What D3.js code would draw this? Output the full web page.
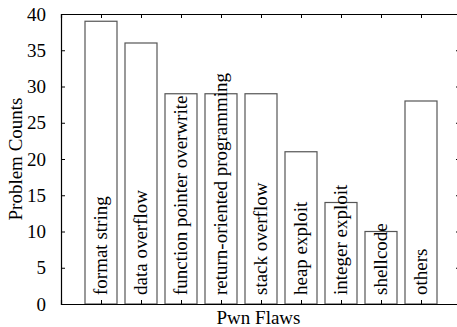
<!DOCTYPE html>
<html>
<head>
<meta charset="utf-8">
<script src="https://cdn.jsdelivr.net/npm/d3@7"></script>
<style>
	body { margin: 0; background: #fff; }
	svg text { font-family: "Liberation Serif", serif; fill: #000; }
</style>
</head>
<body>
<div id="chart"></div>
<script>
// data
var flaws = ["format string", "data overflow", "function pointer overwrite",
	"return-oriented programming", "stack overflow", "heap exploit",
	"integer exploit", "shellcode", "others"];
var counts = [39, 36, 29, 29, 29, 21, 14, 10, 28];
var yTicks = [0, 5, 10, 15, 20, 25, 30, 35, 40];

var svg_width = 457,
	svg_height = 327;

var margin = { left: 61, top: 14, right: 461, bottom: 304 };

// x: category index -> display (one empty slot on each side)
var xScale = d3.scaleLinear().domain([-1, flaws.length]).range([margin.left, margin.right]);
var yScale = d3.scaleLinear().domain([0, 40]).range([margin.bottom, margin.top]);

var svg = d3.select("#chart").append("svg")
	.attr("width", svg_width)
	.attr("height", svg_height);

var barWidth = 32;

// bars
svg.selectAll(".bar")
	.data(counts)
	.enter()
	.append("rect")
	.attr("class", "bar")
	.attr("x", function(d, i) { return xScale(i) - barWidth / 2; })
	.attr("y", function(d) { return yScale(d); })
	.attr("width", barWidth)
	.attr("height", function(d) { return yScale(0) - yScale(d); })
	.style("fill", "#fff")
	.style("stroke", "#555")
	.style("stroke-width", 1.2);

var idx = d3.range(flaws.length);

// axes: ticks point inward on all four sides
var xBottom = d3.axisBottom(xScale).tickValues(idx).tickSize(-4).tickFormat("");
var xTop = d3.axisTop(xScale).tickValues(idx).tickSize(-4).tickFormat("");
var yLeft = d3.axisLeft(yScale).tickValues(yTicks).tickSize(-4).tickPadding(15);
var yRight = d3.axisRight(yScale).tickValues(yTicks).tickSize(-5).tickFormat("");

svg.append("g").attr("transform", "translate(0," + margin.bottom + ")").call(xBottom);
svg.append("g").attr("transform", "translate(0," + margin.top + ")").call(xTop);
svg.append("g").attr("transform", "translate(" + margin.right + ",0)").call(yRight);
svg.append("g").attr("class", "y-axis").attr("transform", "translate(" + margin.left + ",0)").call(yLeft)
	.attr("font-family", "Liberation Serif")
	.attr("font-size", 19);

svg.selectAll(".domain").style("stroke", "#000").style("stroke-width", 1.2);
svg.selectAll(".tick line").style("stroke", "#000");

// rotated category labels inside the bars
svg.selectAll(".flaw-label")
	.data(flaws)
	.enter()
	.append("text")
	.attr("class", "flaw-label")
	.attr("transform", function(d, i) { return "translate(" + xScale(i) + "," + (margin.bottom - 9) + ") rotate(-90)"; })
	.attr("dy", "0.33em")
	.style("font-size", "19px")
	.style("text-anchor", "start")
	.text(function(d) { return d; });

// axis titles
svg.append("text")
	.attr("x", (margin.left + 456) / 2)
	.attr("y", 324)
	.style("font-size", "19px")
	.style("text-anchor", "middle")
	.text("Pwn Flaws");

svg.append("text")
	.attr("transform", "translate(22," + (margin.top + margin.bottom) / 2 + ") rotate(-90)")
	.style("font-size", "19px")
	.style("text-anchor", "middle")
	.text("Problem Counts");
</script>
</body>
</html>
